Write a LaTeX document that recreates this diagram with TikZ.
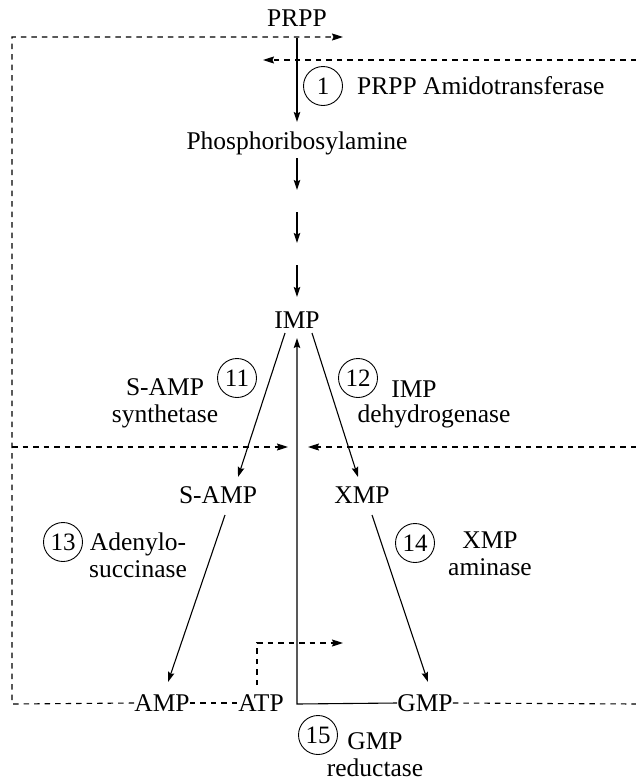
\documentclass[tikz,border=0pt]{standalone}
\usepackage{fontspec}
\setmainfont{Liberation Serif}
\usetikzlibrary{arrows.meta}
\begin{document}
\begin{tikzpicture}[x=1pt,y=-1pt,
  lbl/.style={font=\fontsize{25.5}{27}\selectfont, inner sep=0pt, align=center},
  num/.style={draw, circle, minimum size=39pt, inner sep=0pt, line width=0.9pt, font=\fontsize{25}{27}\selectfont},
  arr/.style={line width=1.1pt, -{Stealth[length=10pt,width=6.5pt,inset=1.5pt]}},
  dline/.style={line width=1.1pt, dash pattern=on 5.5pt off 5pt},
  darr/.style={dline, -{Stealth[length=11pt,width=7pt,inset=1.5pt]}}
]
\useasboundingbox (0,0) rectangle (636,782);

% metabolites
\node[lbl] (prpp) at (297,18) {PRPP};
\node[lbl] (pra) at (297,143) {Phosphoribosylamine};
\node[lbl] (imp) at (297,320) {IMP};
\node[lbl] (samp) at (218,495) {S-AMP};
\node[lbl] (xmp) at (362,495) {XMP};
\node[lbl] (amp) at (162,703) {AMP};
\node[lbl] (atp) at (261,703) {ATP};
\node[lbl] (gmp) at (425,703) {GMP};

% enzyme numbers
\node[num] (n1) at (323,86) {1};
\node[num] (n11) at (237,378) {11};
\node[num] (n12) at (358,378) {12};
\node[num] (n13) at (63,542) {13};
\node[num] (n14) at (415,543) {14};
\node[num] (n15) at (318,735) {15};

% enzyme names
\node[lbl, anchor=west] (e1) at (357,86) {PRPP Amidotransferase};
\node[lbl] (e11) at (165,403) {S-AMP\\synthetase};
\node[lbl] (e12a) at (414,389) {IMP};
\node[lbl] (e12b) at (434,416) {dehydrogenase};
\node[lbl] (e13) at (138,555) {Adenylo-\\succinase};
\node[lbl] (e14) at (490,554) {XMP\\aminase};
\node[lbl] (e15) at (375,755) {GMP\\reductase};

% coordinates
\coordinate (p1) at (297,38);   \coordinate (p2) at (297,122);
\coordinate (q1) at (297,158);  \coordinate (q2) at (297,190);
\coordinate (q3) at (297,212);  \coordinate (q4) at (297,243);
\coordinate (q5) at (297,265);  \coordinate (q6) at (297,297);
\coordinate (i1) at (285,333);  \coordinate (s1) at (238,477);
\coordinate (i2) at (312,333);  \coordinate (x1) at (358,477);
\coordinate (s2) at (225,515);  \coordinate (a1) at (168,682);
\coordinate (x2) at (372,515);  \coordinate (g1) at (428,682);
\coordinate (corner) at (297,704); \coordinate (up) at (297,338);
\coordinate (bl) at (12,704);   \coordinate (tl) at (12,37);
\coordinate (tt) at (343,37);
\coordinate (r1) at (636,60);   \coordinate (r1e) at (263,60);
\coordinate (ml) at (12,447);   \coordinate (mle) at (288,447);
\coordinate (mr) at (636,447);  \coordinate (mre) at (308,447);
\coordinate (br) at (636,704);
\coordinate (t1) at (257,685);  \coordinate (t2) at (257,643);
\coordinate (t3) at (343,643);

% solid arrows
\draw[arr] (p1) -- (p2);
\draw[arr] (q1) -- (q2);
\draw[arr] (q3) -- (q4);
\draw[arr] (q5) -- (q6);
\draw[arr] (i1) -- (s1);
\draw[arr] (i2) -- (x1);
\draw[arr] (s2) -- (a1);
\draw[arr] (x2) -- (g1);
\draw[arr] (gmp.west) -- (corner) -- (up);

% dashed feedback
\draw[darr] (amp.west) -- (bl) -- (tl) -- (tt);
\draw[dline] (amp.east) -- (atp.west);
\draw[darr] (ml) -- (mle);
\draw[darr] (r1) -- (r1e);
\draw[darr] (mr) -- (mre);
\draw[dline] (gmp.east) -- (br);
\draw[darr] (t1) -- (t2) -- (t3);
\end{tikzpicture}
\end{document}
